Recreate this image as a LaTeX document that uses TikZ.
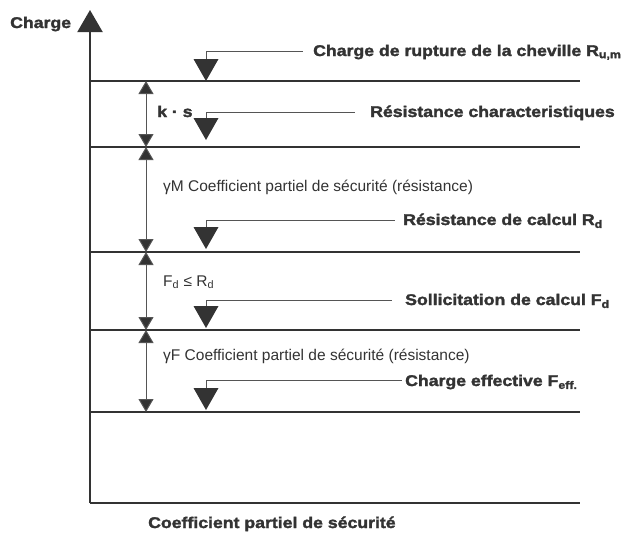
\documentclass[tikz,border=0pt]{standalone}
\usepackage{fontspec}
\setmainfont{Liberation Sans}[BoldFeatures={FakeStretch=1.14,FakeBold=2}]
\usetikzlibrary{arrows.meta}
\definecolor{ink}{HTML}{333333}
\definecolor{thin}{HTML}{555555}
\tikzset{
  x=1pt,y=-1pt,
  axisline/.style={draw=ink,line width=2pt},
  level/.style={draw=ink,line width=1.8pt},
  dimarrow/.style={draw=thin,line width=1pt,{Triangle[width=15pt,length=13pt,fill=ink]}-{Triangle[width=15pt,length=13pt,fill=ink]}},
  leader/.style={draw=thin,line width=1pt},
  marker/.style={fill=ink},
  btext/.style={anchor=base west,inner sep=0pt,text=ink,font=\fontsize{15.5}{17}\selectfont\bfseries},
  rtext/.style={anchor=base west,inner sep=0pt,text=ink,font=\fontsize{15.5}{17}\selectfont},
}
\newcommand{\sbs}[1]{\textsubscript{#1}}
\begin{document}
\begin{tikzpicture}
\useasboundingbox (0,0) rectangle (628,533);
% axes
\coordinate (O) at (90,503);
\coordinate (Top) at (90,10);
\coordinate (Right) at (580,503);
\draw[axisline,-{Triangle[width=25pt,length=22pt,fill=ink]}] (O) -- (Top);
\draw[axisline] (O) -- (Right);
% levels
\foreach \n/\y in {1/81,2/147,3/252,4/330,5/412}{
  \coordinate (L\n a) at (90,\y);
  \coordinate (L\n b) at (580,\y);
  \coordinate (D\n) at (146,\y);
  \draw[level] (L\n a) -- (L\n b);
}
% dimension arrows
\draw[dimarrow] (D1) -- (D2);
\draw[dimarrow] (D2) -- (D3);
\draw[dimarrow] (D3) -- (D4);
\draw[dimarrow] (D4) -- (D5);
% markers and leaders
\foreach \n/\tip/\ly/\lx in {1/81/51/303,2/140/112/355,3/249/220/395,4/328/300/392,5/410/380/402}{
  \coordinate (M\n) at (206,\tip);
  \coordinate (Mt\n) at (206,\tip-22);
  \coordinate (Mc\n) at (206,\ly);
  \coordinate (Me\n) at (\lx,\ly);
  \fill[marker] (M\n) -- ++(-12.5,-22) -- ++(25,0) -- cycle;
  \draw[leader] (Mt\n) -- (Mc\n) -- (Me\n);
}
% texts
\node[btext] (charge) at (10,28) {Charge};
\node[btext] (t1) at (313,56) {Charge de rupture de la cheville R\sbs{u,m}};
\node[btext] (t2) at (370,117) {Résistance characteristiques};
\node[btext] (ks) at (157,117) {k · s};
\node[rtext] (gm) at (163,191) {γM Coefficient partiel de sécurité (résistance)};
\node[btext] (t3) at (403,225) {Résistance de calcul R\sbs{d}};
\node[rtext] (fr) at (163,286) {F\sbs{d} ≤ R\sbs{d}};
\node[btext] (t4) at (405,305) {Sollicitation de calcul F\sbs{d}};
\node[rtext] (gf) at (163,360) {γF Coefficient partiel de sécurité (résistance)};
\node[btext] (t5) at (405,386) {Charge effective F\sbs{eff.}};
\node[btext] (xl) at (148,528) {Coefficient partiel de sécurité};
\end{tikzpicture}
\end{document}
